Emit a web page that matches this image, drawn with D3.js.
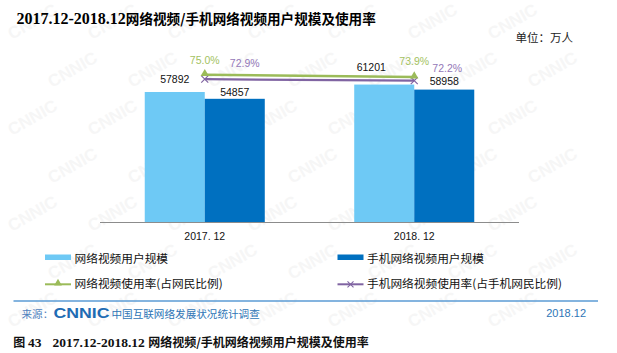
<!DOCTYPE html>
<html>
<head>
<meta charset="utf-8">
<script src="https://cdn.jsdelivr.net/npm/d3@7"></script>
<style>
  body { margin: 0; background: #fff; }
  svg { display: block; }
  text { font-family: "Liberation Sans", Arial, "Noto Sans CJK SC", sans-serif; }
  .cjk { font-family: "Noto Sans CJK SC", sans-serif; }
</style>
</head>
<body>
<div id="chart"></div>
<script>
// data
const categories = ["2017. 12", "2018. 12"];
const seriesNames = ["网络视频用户规模", "手机网络视频用户规模"];
const videoUsers = [57892, 61201];
const mobileVideoUsers = [54857, 58958];
const lineNames = ["网络视频使用率(占网民比例)", "手机网络视频使用率(占手机网民比例)"];
const videoRate = [75.0, 73.9];
const mobileVideoRate = [72.9, 72.2];

const W = 617, H = 353;
const barColors = ["#6ec9f5", "#0070c0"];
const lineColors = ["#9bbb59", "#8064a2"];
const rateTextColors = ["#a3c261", "#9478b8"];

const svg = d3.select("#chart").append("svg")
    .attr("width", W)
    .attr("height", H);

svg.append("rect").attr("width", W).attr("height", H).attr("fill", "#fff");

// faint CNNIC watermark (kept inside the page)
const wm = svg.append("g");
for (let r = 0; r < 7; r++) {
    for (let c = 0; c < 8; c++) {
        const x = c * 80 + (r % 2) * 40 + 12;
        const y = r * 48 + 40;
        if (x > 560 || y > 340) continue;
        wm.append("text")
            .attr("transform", `translate(${x},${y}) rotate(-30)`)
            .attr("font-size", 17)
            .attr("font-weight", "bold")
            .attr("fill", "#f6f6f6")
            .text("CNNIC");
    }
}

// title
const title = svg.append("text").attr("x", 16.5).attr("y", 24).attr("font-weight", "bold");
title.append("tspan").style("font-family", "'Liberation Serif', 'Times New Roman', serif")
    .attr("font-size", 16).text("2017.12-2018.12");
title.append("tspan").attr("class", "cjk").attr("font-size", 13.6).text("网络视频/手机网络视频用户规模及使用率");

svg.append("text").attr("class", "cjk")
    .attr("x", 515.5).attr("y", 42)
    .attr("font-size", 11.5).attr("fill", "#222")
    .text("单位：万人");

// scales
const x0 = d3.scaleBand()
    .domain(categories)
    .range([100, 519])
    .paddingInner(0.427)
    .paddingOuter(0.2136);

const x1 = d3.scaleBand()
    .domain([0, 1])
    .range([0, x0.bandwidth()]);

const y = d3.scaleLinear()
    .domain([0, 70000])
    .range([222, 64.8]);

const yRate = d3.scaleLinear()
    .domain([65, 80])
    .range([96.1, 64]);

// bars
const barSeries = [videoUsers, mobileVideoUsers];
const labelShift = [[[0, -8.5], [0, -3]], [[-13, -13.5], [0, -5]]];

categories.forEach((cat, i) => {
    const g = svg.append("g").attr("transform", `translate(${x0(cat)},0)`);
    barSeries.forEach((s, j) => {
        g.append("rect")
            .attr("x", x1(j))
            .attr("y", y(s[i]))
            .attr("width", x1.bandwidth())
            .attr("height", y(0) - y(s[i]))
            .attr("fill", barColors[j]);
        g.append("text")
            .attr("x", x1(j) + x1.bandwidth() / 2 + labelShift[i][j][0])
            .attr("y", y(s[i]) + labelShift[i][j][1])
            .attr("text-anchor", "middle")
            .attr("font-size", 10.5)
            .attr("fill", "#111")
            .text(s[i]);
    });
});

// x axis
const xAxis = svg.append("g")
    .attr("transform", "translate(0,222)")
    .call(d3.axisBottom(x0).tickSize(0).tickPadding(11));
xAxis.select(".domain").attr("stroke", "#8c8c8c").attr("d", "M100,0.5H519");
xAxis.selectAll(".tick text")
    .attr("font-size", 10.5)
    .attr("fill", "#111")
    .style("font-family", "'Liberation Sans', Arial, sans-serif");

// rate lines
const rateSeries = [videoRate, mobileVideoRate];
// [category][series] label offsets
const rateLabelShift = [[[0, -10.7], [40, -12.5]], [[0, -12.1], [33, -8.7]]];
const line = d3.line()
    .x((d, i) => x0(categories[i]) + x0.bandwidth() / 2)
    .y(d => yRate(d));

[1, 0].forEach(j => {
    const s = rateSeries[j];
    svg.append("path")
        .datum(s)
        .attr("d", line)
        .attr("fill", "none")
        .attr("stroke", lineColors[j])
        .attr("stroke-width", j === 0 ? 2.6 : 2.2);
    s.forEach((v, i) => {
        const cx = x0(categories[i]) + x0.bandwidth() / 2;
        const cy = yRate(v);
        if (j === 0) {
            svg.append("path")
                .attr("d", d3.symbol(d3.symbolTriangle, 30)())
                .attr("transform", `translate(${cx},${cy - 1})`)
                .attr("fill", lineColors[j]);
        } else {
            svg.append("path")
                .attr("d", `M${cx - 3.5},${cy - 3.5}L${cx + 3.5},${cy + 3.5}M${cx - 3.5},${cy + 3.5}L${cx + 3.5},${cy - 3.5}`)
                .attr("stroke", lineColors[j])
                .attr("stroke-width", 1.2);
        }
        svg.append("text")
            .attr("x", cx + rateLabelShift[i][j][0])
            .attr("y", cy + rateLabelShift[i][j][1])
            .attr("text-anchor", "middle")
            .attr("font-size", 10.5)
            .attr("fill", rateTextColors[j])
            .text(v.toFixed(1) + "%");
    });
});

// legend
const legendX = [45, 337.5];
seriesNames.forEach((name, j) => {
    svg.append("rect")
        .attr("x", legendX[j]).attr("y", 254.5)
        .attr("width", 26).attr("height", 5.5)
        .attr("fill", barColors[j]);
    svg.append("text").attr("class", "cjk")
        .attr("x", legendX[j] + 29.5).attr("y", 263)
        .attr("font-size", 11.7).attr("fill", "#111")
        .text(name);
});
lineNames.forEach((name, j) => {
    const lx = legendX[j], ly = 284.3;
    svg.append("line")
        .attr("x1", lx).attr("x2", lx + 26).attr("y1", ly).attr("y2", ly)
        .attr("stroke", lineColors[j]).attr("stroke-width", 2);
    const cx = lx + 13;
    if (j === 0) {
        svg.append("path")
            .attr("d", d3.symbol(d3.symbolTriangle, 26)())
            .attr("transform", `translate(${cx},${ly - 1})`)
            .attr("fill", lineColors[j]);
    } else {
        svg.append("path")
            .attr("d", `M${cx - 3},${ly - 3}L${cx + 3},${ly + 3}M${cx - 3},${ly + 3}L${cx + 3},${ly - 3}`)
            .attr("stroke", lineColors[j]).attr("stroke-width", 1.1);
    }
    svg.append("text").attr("class", "cjk")
        .attr("x", lx + 29.5).attr("y", 288)
        .attr("font-size", 11.7).attr("fill", "#111")
        .text(name);
});

// footer
svg.append("line")
    .attr("x1", 13.5).attr("x2", 598).attr("y1", 301).attr("y2", 301)
    .attr("stroke", "#5b9bd5").attr("stroke-width", 1.4);

svg.append("text").attr("class", "cjk")
    .attr("x", 21.5).attr("y", 317.5)
    .attr("font-size", 10.6).attr("fill", "#4f81bd")
    .text("来源：");
svg.append("text")
    .attr("x", 53.5).attr("y", 318.4)
    .attr("font-size", 14).attr("font-weight", "bold")
    .attr("textLength", 56).attr("lengthAdjust", "spacingAndGlyphs")
    .attr("fill", "#1f6cb4")
    .text("CNNIC");
svg.append("text").attr("class", "cjk")
    .attr("x", 111.5).attr("y", 317.5)
    .attr("font-size", 10.6).attr("fill", "#2e75b6")
    .text("中国互联网络发展状况统计调查");
svg.append("text")
    .attr("x", 586).attr("y", 317)
    .attr("text-anchor", "end")
    .attr("font-size", 11).attr("fill", "#2e75b6")
    .text("2018.12");

// caption
const cap = svg.append("text").attr("x", 13.3).attr("y", 347).attr("font-weight", "bold").attr("fill", "#111");
cap.append("tspan").attr("class", "cjk").attr("font-size", 12).text("图 ");
cap.append("tspan").style("font-family", "'Liberation Serif', serif").attr("font-size", 13.5).text("43");
cap.append("tspan").style("font-family", "'Liberation Serif', serif").attr("font-size", 13.5)
    .attr("dx", 11).text("2017.12-2018.12 ");
cap.append("tspan").attr("class", "cjk").attr("font-size", 12).text("网络视频/手机网络视频用户规模及使用率");
</script>
</body>
</html>
